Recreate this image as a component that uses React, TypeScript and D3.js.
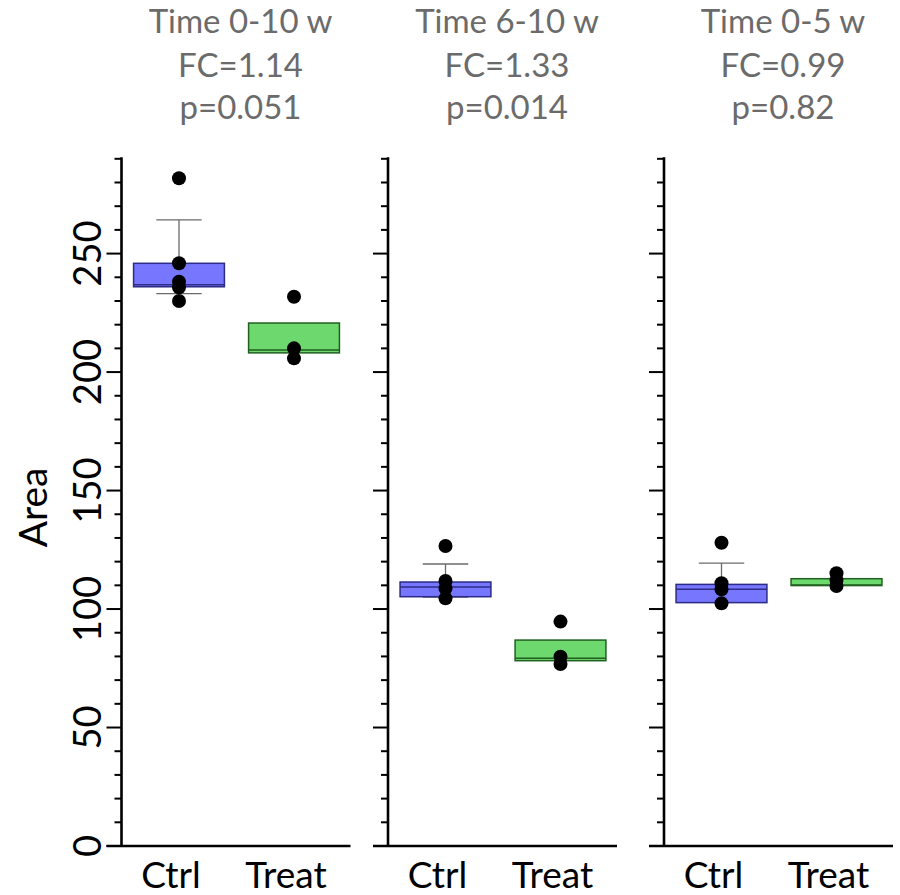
import React from 'react'
import * as d3 from 'd3'

// Three side-by-side box plots (Ctrl vs Treat) sharing one y scale.

const groups = ['Ctrl', 'Treat']
const panelTitles = ['Time 0-10 w', 'Time 6-10 w', 'Time 0-5 w']
const fcLabels = ['FC=1.14', 'FC=1.33', 'FC=0.99']
const pLabels = ['p=0.051', 'p=0.014', 'p=0.82']
const majorTicks = [0, 50, 100, 150, 200, 250]
const minorTicks = d3.range(0, 291, 10)

// box stats per panel
const ctrlQ1 = [236.0, 105.2, 102.7]
const ctrlMedian = [236.9, 109.3, 108.3]
const ctrlQ3 = [245.9, 111.4, 110.4]
const ctrlWhiskerLow = [233.1, 105.0, 102.7]
const ctrlWhiskerHigh = [264.2, 119.0, 119.4]

const treatQ1 = [208.1, 78.2, 109.9]
const treatMedian = [209.3, 79.2, 110.1]
const treatQ3 = [220.7, 86.9, 112.8]
const treatWhiskerLow = [208.1, 78.2, 109.9]
const treatWhiskerHigh = [220.7, 86.9, 112.8]

// individual samples
const ctrlPoints = [
  [281.8, 245.9, 238.1, 235.8, 230.0],
  [126.6, 111.8, 108.7, 104.5],
  [128.0, 110.9, 108.3, 102.4],
]
const treatPoints = [
  [231.8, 210.0, 205.8],
  [94.7, 79.9, 76.8],
  [115.1, 112.2, 109.7],
]

const FONT = 'Lato, "Open Sans", sans-serif'
const panelLeft = [121.5, 388, 664]
const panelWidth = 230

const y = d3.scaleLinear().domain([0, 290]).range([846, 158.8])
const x = d3.scaleBand().domain(groups).range([0, panelWidth]).paddingInner(0).paddingOuter(0)

const styles = {
  Ctrl: { fill: '#7676fe', stroke: '#2c2c86' },
  Treat: { fill: '#6dd86d', stroke: '#215f21' },
}

function Box({ group, q1, med, q3, wl, wh, pts }) {
  const cx = x(group) + x.bandwidth() / 2
  const bw = x.bandwidth() * 0.79
  const cw = bw / 2
  const st = styles[group]
  return (
    <g>
      {wh > q3 && (
        <g stroke="#6a6a6a" strokeWidth={1.3}>
          <line x1={cx} x2={cx} y1={y(q3)} y2={y(wh)} />
          <line x1={cx - cw / 2} x2={cx + cw / 2} y1={y(wh)} y2={y(wh)} />
        </g>
      )}
      {wl < q1 && (
        <g stroke="#6a6a6a" strokeWidth={1.3}>
          <line x1={cx} x2={cx} y1={y(q1)} y2={y(wl)} />
          <line x1={cx - cw / 2} x2={cx + cw / 2} y1={y(wl)} y2={y(wl)} />
        </g>
      )}
      <rect
        x={cx - bw / 2}
        width={bw}
        y={y(q3)}
        height={y(q1) - y(q3)}
        fill={st.fill}
        stroke={st.stroke}
        strokeWidth={1.5}
      />
      <line x1={cx - bw / 2} x2={cx + bw / 2} y1={y(med)} y2={y(med)} stroke={st.stroke} strokeWidth={1.5} />
      {pts.map((v, i) => (
        <circle key={i} cx={cx} cy={y(v)} r={7} fill="#000" />
      ))}
    </g>
  )
}

function Panel({ i }) {
  const left = panelLeft[i]
  const titleX = panelWidth / 2 + 4
  return (
    <g transform={`translate(${left},0)`}>
      <g fill="#6b6b6b" fontFamily={FONT} fontSize={33} textAnchor="middle">
        <text x={titleX} y={33}>{panelTitles[i]}</text>
        <text x={titleX} y={77}>{fcLabels[i]}</text>
        <text x={titleX} y={119}>{pLabels[i]}</text>
      </g>

      {/* y axis */}
      <g stroke="#000">
        <line x1={0} x2={0} y1={y(290) - 1.5} y2={y(0)} strokeWidth={2.6} />
        {minorTicks.map((t) => (
          <line key={t} x1={majorTicks.includes(t) ? -15 : -7} x2={0} y1={y(t)} y2={y(t)} strokeWidth={2} />
        ))}
        <line x1={-15} x2={panelWidth - 1} y1={y(0)} y2={y(0)} strokeWidth={2.6} />
      </g>

      {i === 0 &&
        majorTicks.map((t) => (
          <text
            key={t}
            transform={`translate(-21,${y(t)}) rotate(-90)`}
            textAnchor="middle"
            fontFamily={FONT}
            fontSize={38}
            fill="#000"
          >
            {t}
          </text>
        ))}

      <Box
        group="Ctrl"
        q1={ctrlQ1[i]}
        med={ctrlMedian[i]}
        q3={ctrlQ3[i]}
        wl={ctrlWhiskerLow[i]}
        wh={ctrlWhiskerHigh[i]}
        pts={ctrlPoints[i]}
      />
      <Box
        group="Treat"
        q1={treatQ1[i]}
        med={treatMedian[i]}
        q3={treatQ3[i]}
        wl={treatWhiskerLow[i]}
        wh={treatWhiskerHigh[i]}
        pts={treatPoints[i]}
      />

      {groups.map((g) => (
        <text
          key={g}
          x={x(g) + x.bandwidth() / 2 - 8}
          y={888}
          textAnchor="middle"
          fontFamily={FONT}
          fontSize={37}
          fill="#000"
        >
          {g}
        </text>
      ))}
    </g>
  )
}

export default function App() {
  return (
    <svg
      width={900}
      height={895}
      viewBox="0 0 900 895"
      style={{ position: 'absolute', left: 0, top: 0, background: '#fff' }}
    >
      <text
        transform={`translate(47,${(y(0) + y(290)) / 2 + 5}) rotate(-90)`}
        textAnchor="middle"
        fontFamily={FONT}
        fontSize={39}
        fill="#000"
      >
        Area
      </text>
      {panelTitles.map((_, i) => (
        <Panel key={i} i={i} />
      ))}
    </svg>
  )
}
